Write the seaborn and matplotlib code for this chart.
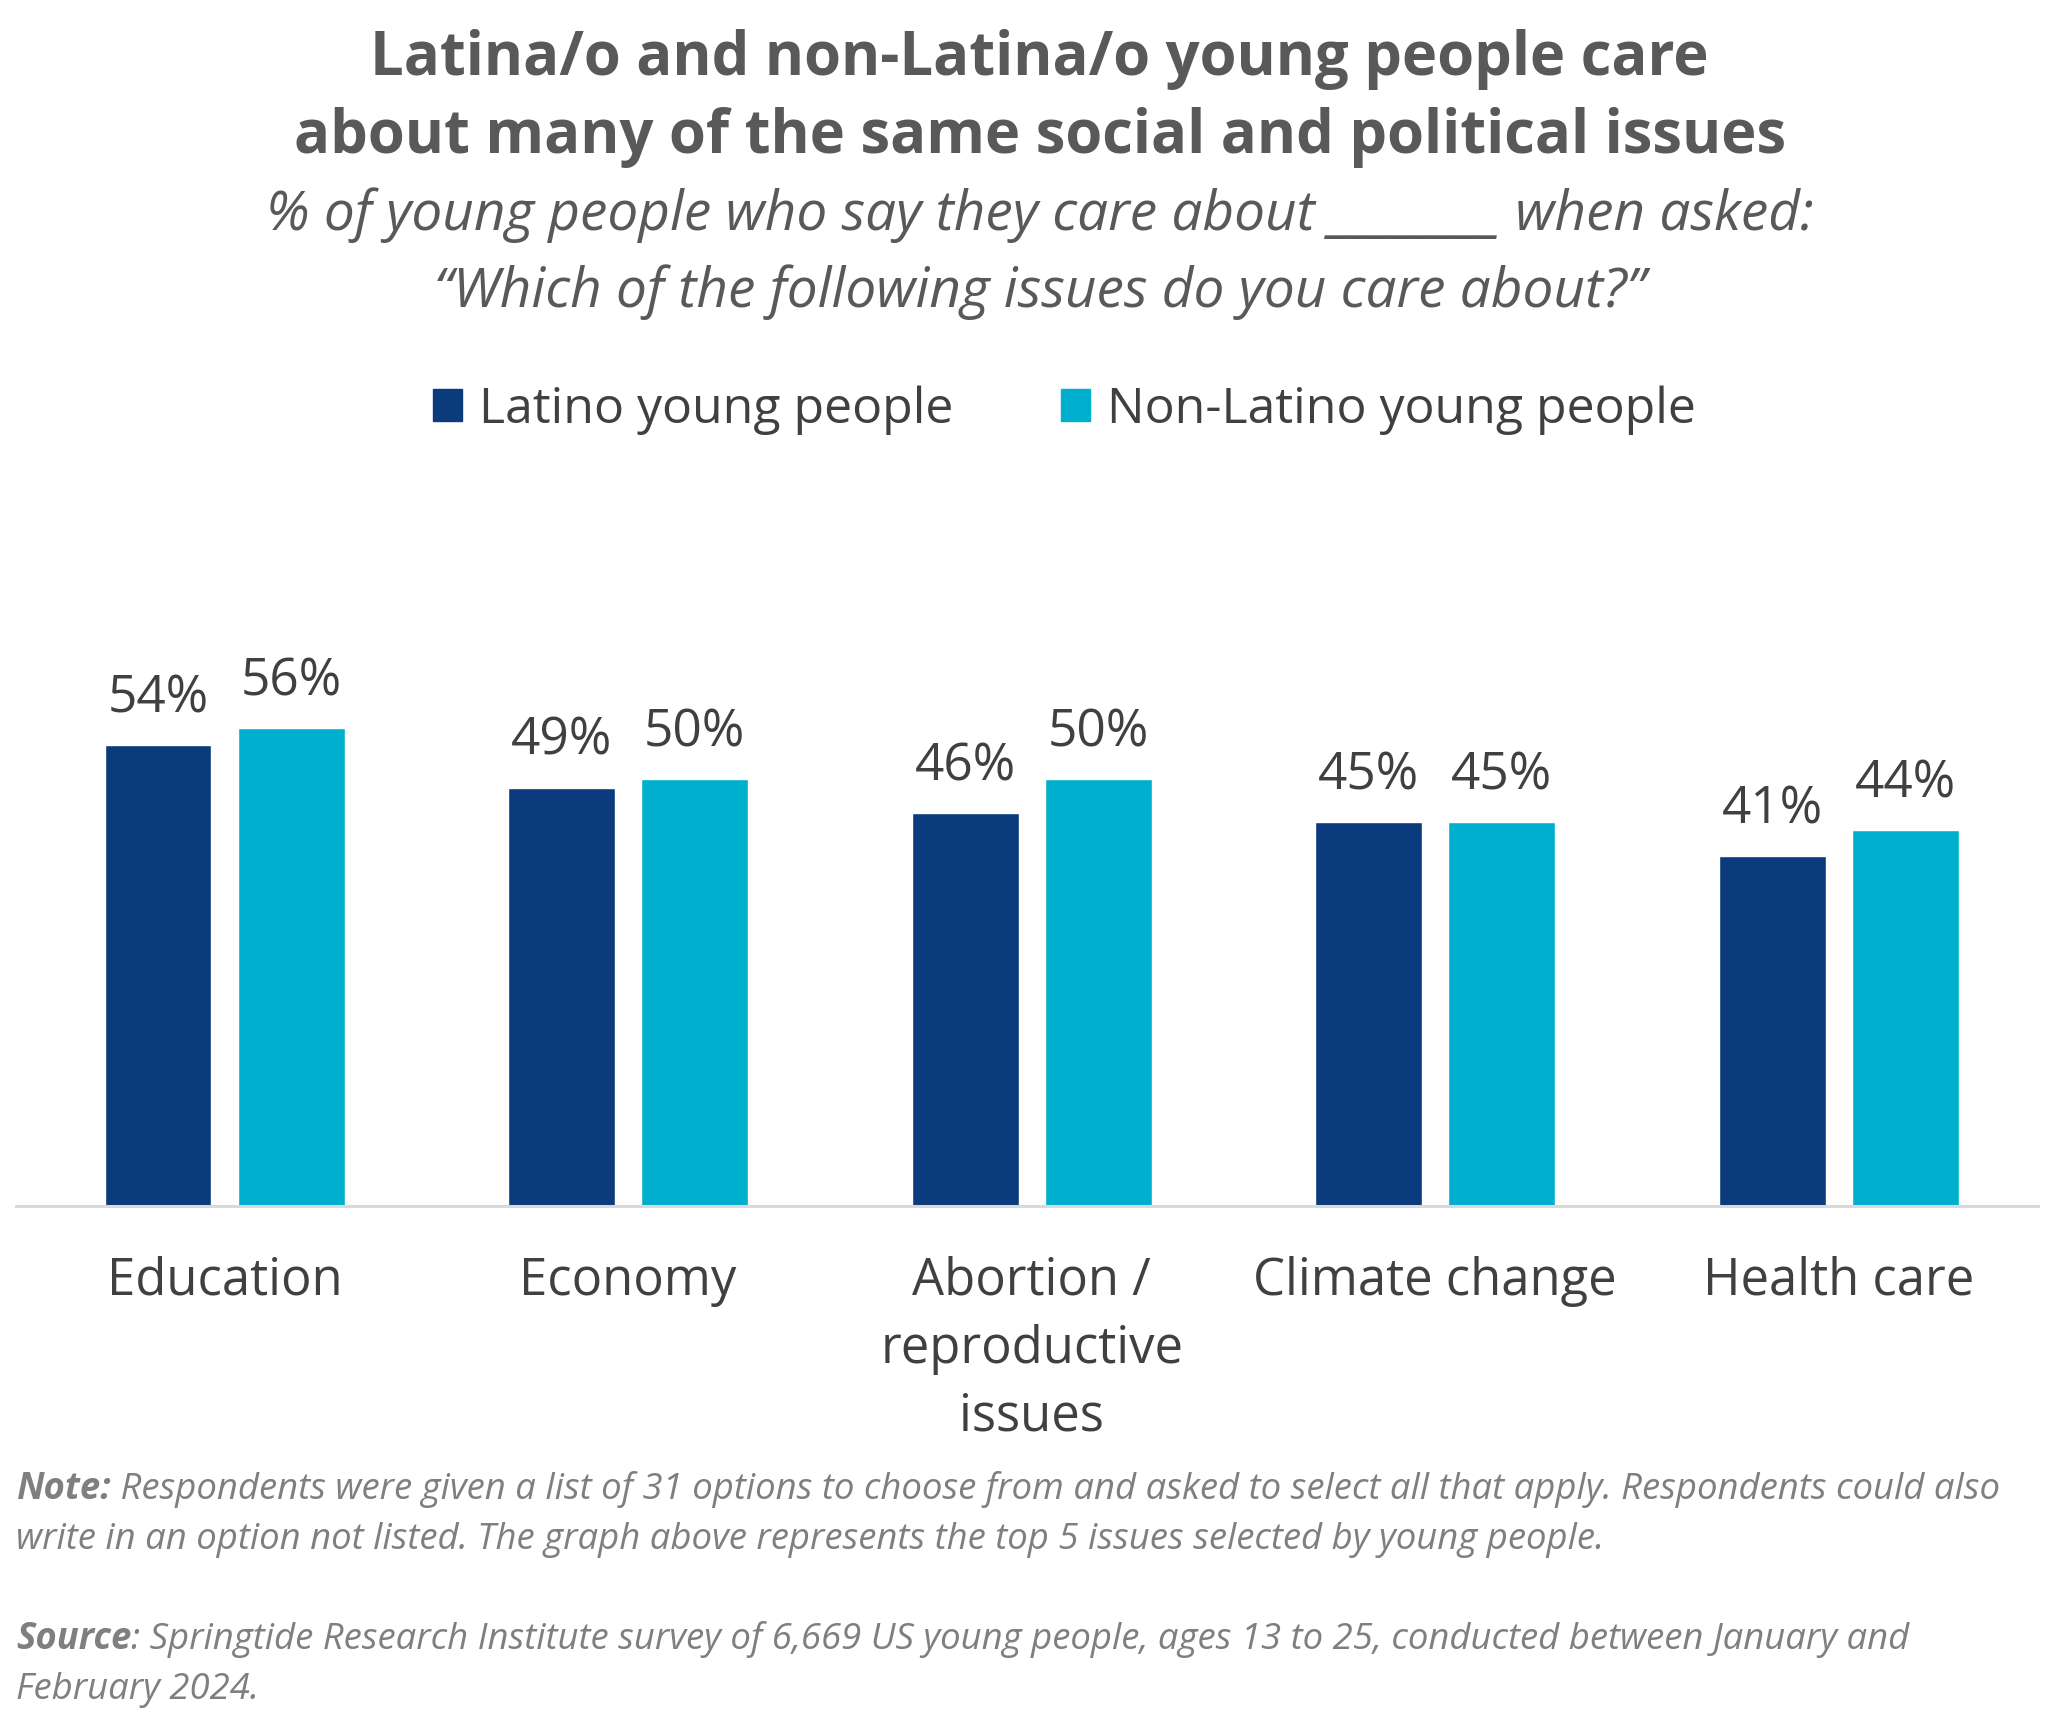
import pandas as pd
import matplotlib
matplotlib.use("Agg")
import matplotlib.pyplot as plt
import matplotlib.patches as mpatches
import seaborn as sns

# datos
categorias = ["Education", "Economy", "Abortion /\nreproductive\nissues", "Climate change", "Health care"]
latino = [54, 49, 46, 45, 41]
no_latino = [56, 50, 50, 45, 44]
grupos = ["Latino young people", "Non-Latino young people"]
colores = ["#0b3b7c", "#00afce"]

df = pd.DataFrame({
    "issue": categorias * 2,
    "pct": latino + no_latino,
    "grupo": [grupos[0]] * len(categorias) + [grupos[1]] * len(categorias),
})

sns.set_theme(style="white")
plt.rcParams["font.family"] = ["Open Sans", "DejaVu Sans"]

GRIS_TITULO = "#595959"
GRIS_TEXTO = "#404040"
GRIS_NOTA = "#7f7f7f"

fig = plt.figure(figsize=(20.71, 17.28), dpi=100)
ax = fig.add_axes([0.0077, 0.3021, 0.9764, 0.4317])

sns.barplot(data=df, x="issue", y="pct", hue="grupo", palette=colores,
            width=0.66, gap=0.197, saturation=1, legend=False, ax=ax)

ax.set_xlim(-0.517, 4.494)
ax.set_ylim(0, 87.4)
ax.set_xlabel("")
ax.set_ylabel("")
ax.set_yticks([])
for lado in ["top", "right", "left"]:
    ax.spines[lado].set_visible(False)
ax.spines["bottom"].set_color("#d9d9d9")
ax.spines["bottom"].set_linewidth(2.2)

ax.tick_params(axis="x", length=0, pad=36, labelsize=36.5, labelcolor=GRIS_TEXTO)
for t in ax.get_xticklabels():
    t.set_linespacing(1.43)

for cont in ax.containers:
    ax.bar_label(cont, fmt="%d%%", padding=15, fontsize=37, color=GRIS_TEXTO)

# titulo y subtitulo
fig.text(0.502, 1 - 60 / 1728, "Latina/o and non-Latina/o young people care",
         ha="center", va="center", fontsize=43, fontweight="bold", color=GRIS_TITULO)
fig.text(0.502, 1 - 138 / 1728, "about many of the same social and political issues",
         ha="center", va="center", fontsize=43, fontweight="bold", color=GRIS_TITULO)
fig.text(0.502, 1 - 215 / 1728, "% of young people who say they care about ________ when asked:",
         ha="center", va="center", fontsize=39.5, fontstyle="italic", color=GRIS_TITULO)
fig.text(0.502, 1 - 292 / 1728, "\u201cWhich of the following issues do you care about?\u201d",
         ha="center", va="center", fontsize=39.5, fontstyle="italic", color=GRIS_TITULO)

# leyenda
handles = [mpatches.Patch(color=c, label=g) for c, g in zip(colores, grupos)]
fig.legend(handles=handles, loc="center", bbox_to_anchor=(0.514, 1 - 410 / 1728),
           ncol=2, frameon=False, fontsize=36, handlelength=0.585, handleheight=0.585,
           handletextpad=0.33, columnspacing=2.16, labelcolor=GRIS_TEXTO)

# notas al pie
nota1 = fig.text(16 / 2071, 1 - 1508 / 1728, "Note:", ha="left", va="bottom", fontsize=26.3,
                 fontstyle="italic", fontweight="bold", color=GRIS_NOTA)
ax.annotate(" Respondents were given a list of 31 options to choose from and asked to select all that apply. Respondents could also",
            xy=(1, 0), xycoords=nota1, ha="left", va="bottom", fontsize=26.3,
            fontstyle="italic", color=GRIS_NOTA, annotation_clip=False)
fig.text(16 / 2071, 1 - 1558 / 1728,
         "write in an option not listed. The graph above represents the top 5 issues selected by young people.",
         ha="left", va="bottom", fontsize=26.3, fontstyle="italic", color=GRIS_NOTA)

fuente = fig.text(16 / 2071, 1 - 1658 / 1728, "Source", ha="left", va="bottom", fontsize=26.3,
                  fontstyle="italic", fontweight="bold", color=GRIS_NOTA)
ax.annotate(": Springtide Research Institute survey of 6,669 US young people, ages 13 to 25, conducted between January and",
            xy=(1, 0), xycoords=fuente, ha="left", va="bottom", fontsize=26.3,
            fontstyle="italic", color=GRIS_NOTA, annotation_clip=False)
fig.text(16 / 2071, 1 - 1708 / 1728, "February 2024.",
         ha="left", va="bottom", fontsize=26.3, fontstyle="italic", color=GRIS_NOTA)

fig.savefig("out.png", dpi=100)
